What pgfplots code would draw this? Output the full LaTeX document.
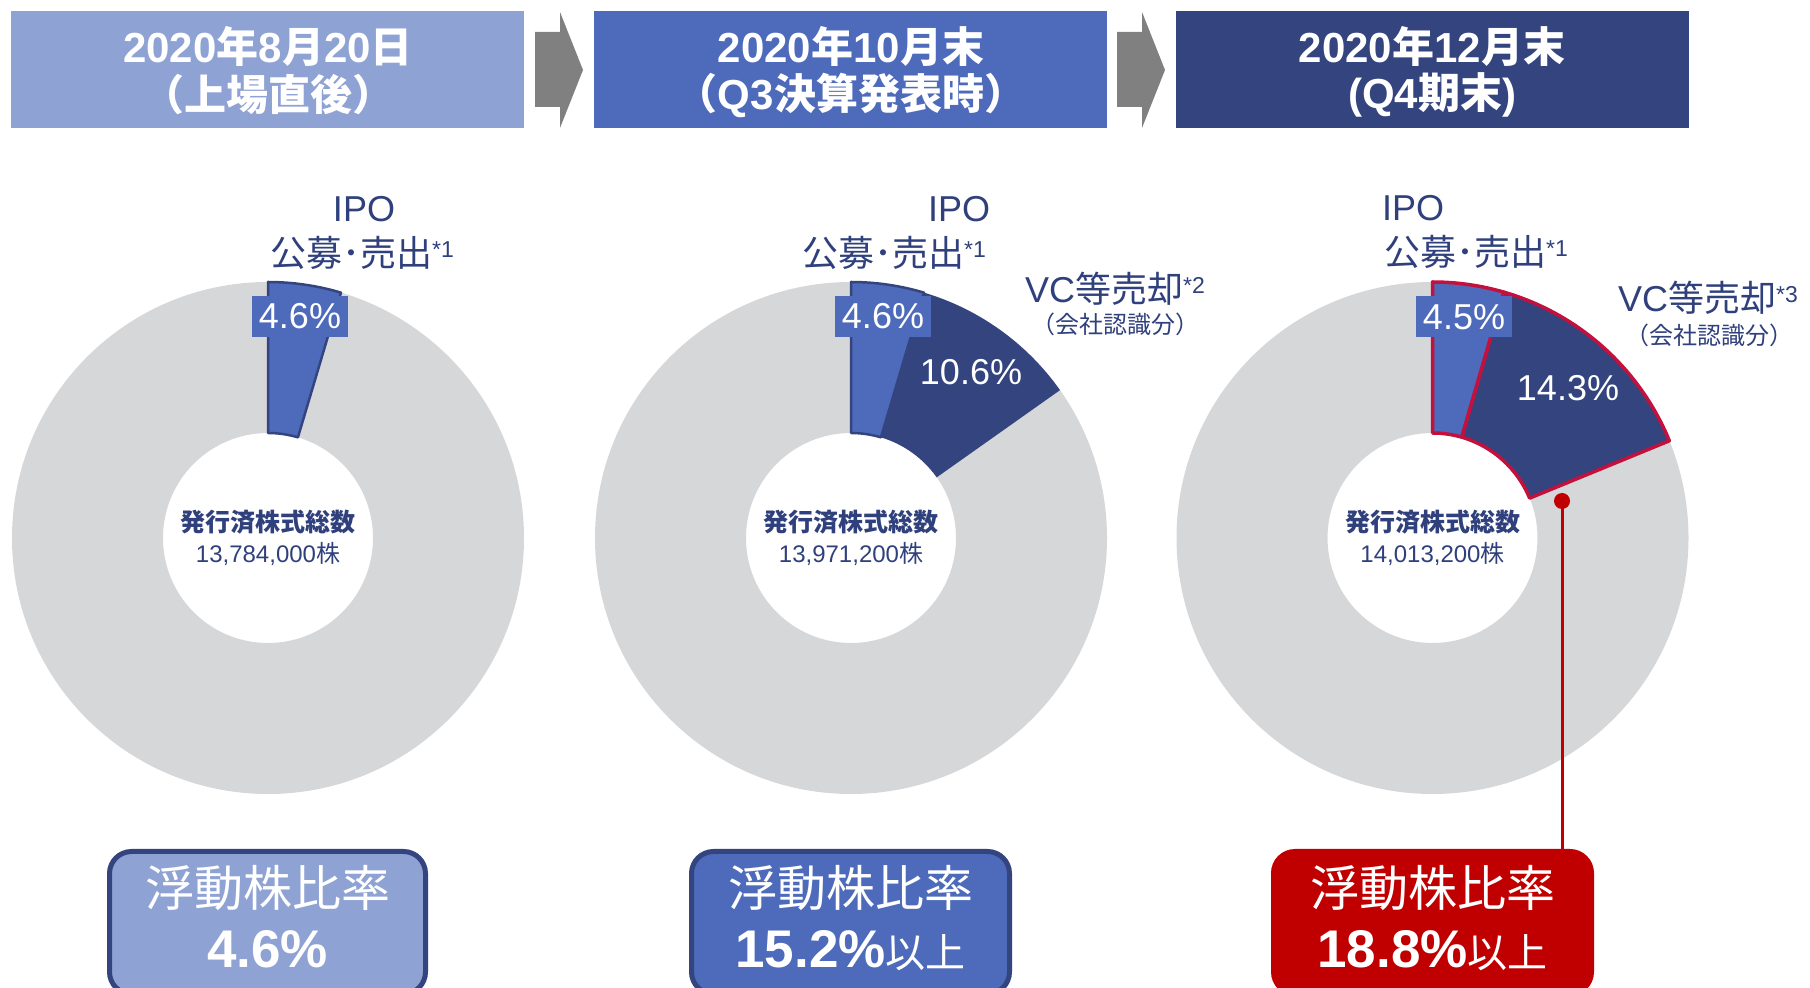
\documentclass[border=0pt]{standalone}
\usepackage{pgfplots}
\pgfplotsset{compat=1.18}
\usepackage{fontspec}
\setmainfont{Liberation Sans}
\newfontfamily\jp{Noto Sans CJK JP}
\definecolor{lblue}{HTML}{8FA2D4}
\definecolor{mblue}{HTML}{4E6ABB}
\definecolor{navy}{HTML}{33447E}
\definecolor{tnavy}{HTML}{2F407C}
\definecolor{ringgray}{HTML}{D6D7D9}
\definecolor{arrowgray}{HTML}{808080}
\definecolor{boxred}{HTML}{C00000}
\definecolor{crim}{HTML}{C4103C}
\newcommand\fs[1]{\fontsize{#1}{#1}\selectfont}
\newcommand\J[1]{{\jp #1}}
\newcommand\sups[1]{\raisebox{9pt}{\fs{23}#1}}
% ring sector: cx, cy, start angle, end angle, style
\newcommand\ringsector[5]{%
  \path[#5] (axis cs:#1,#2) ++(#3:256pt) arc[start angle=#3, end angle=#4, radius=256pt]
    -- ([shift={(#4:105pt)}]axis cs:#1,#2) arc[start angle=#4, end angle=#3, radius=105pt] -- cycle;}
\newcommand\ring[2]{%
  \fill[ringgray, even odd rule] (axis cs:#1,#2) circle[radius=256pt] (axis cs:#1,#2) circle[radius=105pt];}
\newcommand\harrow[1]{%
  \fill[arrowgray] (axis cs:#1,881) -- (axis cs:#1+25,881) -- (axis cs:#1+25,860) -- (axis cs:#1+48,918)
    -- (axis cs:#1+25,976) -- (axis cs:#1+25,956) -- (axis cs:#1,956) -- cycle;}

% data (percent of shares outstanding)
\def\ipoA{4.6}
\def\ipoB{4.6}\def\vcB{10.6}
\def\ipoC{4.5}\def\vcC{14.3}
\pgfmathsetmacro\aA{90-3.6*\ipoA}
\pgfmathsetmacro\aB{90-3.6*\ipoB}
\pgfmathsetmacro\bB{\aB-3.6*\vcB}
\pgfmathsetmacro\aC{90-3.6*\ipoC}
\pgfmathsetmacro\bC{\aC-3.6*\vcC}

\begin{document}
\begin{tikzpicture}
\useasboundingbox (0,0) rectangle (1810pt,988pt);
\begin{axis}[at={(0,0)}, anchor=south west, x=1pt, y=1pt,
  xmin=0, xmax=1810, ymin=0, ymax=988, hide axis, clip=false]

% header boxes
\fill[lblue] (axis cs:11,860) rectangle (axis cs:524,977);
\fill[mblue] (axis cs:594,860) rectangle (axis cs:1107,977);
\fill[navy] (axis cs:1176,860) rectangle (axis cs:1689,977);
\harrow{535}
\harrow{1117}
\node[text=white, font=\bfseries\fs{42}] at (axis cs:268,942) {2020\J{年}8\J{月}20\J{日}};
\node[text=white, font=\bfseries\fs{42}] at (axis cs:268,893) {\J{（上場直後）}};
\node[text=white, font=\bfseries\fs{42}] at (axis cs:851,942) {2020\J{年}10\J{月末}};
\node[text=white, font=\bfseries\fs{42}] at (axis cs:851,893) {\J{（}Q3\J{決算発表時）}};
\node[text=white, font=\bfseries\fs{42}] at (axis cs:1432,942) {2020\J{年}12\J{月末}};
\node[text=white, font=\bfseries\fs{42}] at (axis cs:1432,893) {(Q4\J{期末})};

% donut rings
\ring{268}{450}
\ring{851}{450}
\ring{1432.5}{450}

% sectors
\ringsector{268}{450}{90}{\aA}{fill=mblue, draw=navy, line width=2.5pt, line join=round}
\ringsector{851}{450}{\aB}{\bB}{fill=navy}
\ringsector{851}{450}{90}{\aB}{fill=mblue, draw=navy, line width=2.5pt, line join=round}
\ringsector{1432.5}{450}{90}{\aC}{fill=mblue, draw=crim, line width=3.5pt, line join=round}
\ringsector{1432.5}{450}{\aC}{\bC}{fill=navy, draw=crim, line width=3.5pt, line join=round}

% percent labels
\node[fill=mblue, text=white, font=\fs{36}, minimum width=96pt, minimum height=41pt, inner sep=0pt] at (axis cs:300,671.5) {4.6\%};
\node[fill=mblue, text=white, font=\fs{36}, minimum width=96pt, minimum height=41pt, inner sep=0pt] at (axis cs:883,671.5) {4.6\%};
\node[fill=mblue, text=white, font=\fs{36}, minimum width=96pt, minimum height=41pt, inner sep=0pt] at (axis cs:1464,671) {4.5\%};
\node[text=white, font=\fs{36}] at (axis cs:971,616) {10.6\%};
\node[text=white, font=\fs{36}] at (axis cs:1568,600) {14.3\%};

% IPO labels
\node[text=tnavy, font=\fs{36}] at (axis cs:364,779) {IPO};
\node[text=tnavy, font=\fs{36}, anchor=west, inner sep=0pt] at (axis cs:270,735) {\J{公募･売出}\sups{*1}};
\node[text=tnavy, font=\fs{36}] at (axis cs:959,779) {IPO};
\node[text=tnavy, font=\fs{36}, anchor=west, inner sep=0pt] at (axis cs:802,735) {\J{公募･売出}\sups{*1}};
\node[text=tnavy, font=\fs{36}] at (axis cs:1413,780) {IPO};
\node[text=tnavy, font=\fs{36}, anchor=west, inner sep=0pt] at (axis cs:1384,736) {\J{公募･売出}\sups{*1}};

% VC labels
\node[text=tnavy, font=\fs{36}, anchor=west, inner sep=0pt] at (axis cs:1025,699) {VC\J{等売却}\sups{*2}};
\node[text=tnavy, font=\fs{24}, anchor=west, inner sep=0pt] at (axis cs:1031,664) {\J{（会社認識分）}};
\node[text=tnavy, font=\fs{36}, anchor=west, inner sep=0pt] at (axis cs:1618,690) {VC\J{等売却}\sups{*3}};
\node[text=tnavy, font=\fs{24}, anchor=west, inner sep=0pt] at (axis cs:1625,653) {\J{（会社認識分）}};

% centre texts
\node[text=tnavy, font=\fs{25}] at (axis cs:268,466) {\jp\bfseries 発行済株式総数};
\node[text=tnavy, font=\fs{24}] at (axis cs:268,434) {13,784,000\J{株}};
\node[text=tnavy, font=\fs{25}] at (axis cs:851,466) {\jp\bfseries 発行済株式総数};
\node[text=tnavy, font=\fs{24}] at (axis cs:851,434) {13,971,200\J{株}};
\node[text=tnavy, font=\fs{25}] at (axis cs:1432.5,466) {\jp\bfseries 発行済株式総数};
\node[text=tnavy, font=\fs{24}] at (axis cs:1432.5,434) {14,013,200\J{株}};

% connector
\draw[boxred, line width=3pt] (axis cs:1562,487) -- (axis cs:1562,139);
\fill[boxred] (axis cs:1562,487) circle[radius=8pt];

% bottom boxes
\draw[fill=lblue, draw=navy, line width=5pt, rounded corners=22pt] (axis cs:109.5,136.5) rectangle (axis cs:425.5,-6);
\draw[fill=mblue, draw=navy, line width=5pt, rounded corners=22pt] (axis cs:691.5,136.5) rectangle (axis cs:1009.5,-6);
\fill[boxred, rounded corners=24pt] (axis cs:1271,139) rectangle (axis cs:1594,-8);

\node[text=white, font=\fs{49}] at (axis cs:267.5,100) {\jp 浮動株比率};
\node[text=white, font=\bfseries\fs{53}] at (axis cs:267.5,39) {4.6\%};
\node[text=white, font=\fs{49}] at (axis cs:850.5,100) {\jp 浮動株比率};
\node[text=white, font=\fs{53}, anchor=base] at (axis cs:850.5,20) {\textbf{15.2\%}{\jp\fs{40}以上}};
\node[text=white, font=\fs{49}] at (axis cs:1432.5,100) {\jp 浮動株比率};
\node[text=white, font=\fs{53}, anchor=base] at (axis cs:1432.5,20) {\textbf{18.8\%}{\jp\fs{40}以上}};

\end{axis}
\end{tikzpicture}
\end{document}
